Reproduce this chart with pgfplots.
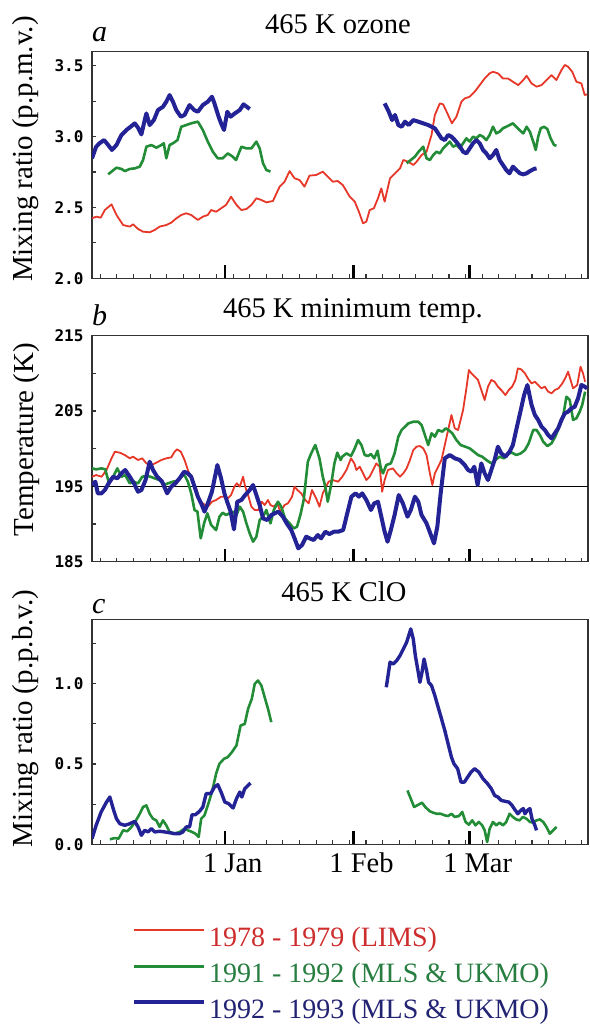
\documentclass[border=0pt]{standalone}
\usepackage{fontspec}
\setmainfont{Liberation Serif}
\newfontfamily\tickfont{DejaVu Sans Mono}
\usepackage{pgfplots}
\pgfplotsset{compat=1.18}
\definecolor{lred}{RGB}{230,55,40}
\definecolor{lgreen}{RGB}{35,140,55}
\definecolor{lblue}{RGB}{35,35,150}
\definecolor{tred}{RGB}{205,45,45}
\definecolor{tgreen}{RGB}{40,125,65}
\definecolor{tblue}{RGB}{35,35,115}
\newcommand{\bigfont}{\fontsize{28.5}{31}\selectfont}
\pgfplotsset{
  panel/.style={
    scale only axis, width=496pt,
    xmin=-32, xmax=87.5,
    axis line style={line width=1.5pt, draw=black!80},
    tick align=inside, tick pos=left,
    xtick={0,31,59}, minor xtick={-30,-26,...,86},
    major tick length=4pt, minor tick length=4pt,
    major x tick style={/pgfplots/major tick length=13pt, line width=2.5pt, black},
    minor x tick style={line width=1.1pt, black!80},
    y tick style={line width=1.2pt, black!80},
    xticklabels={,,},
    yticklabel style={font=\tickfont\bfseries\fontsize{16}{16}\selectfont, xshift=-5pt},
    every axis y label/.style={at={(axis description cs:-0.133,0.56)}, anchor=center, rotate=90, font=\fontsize{29}{31}\selectfont},
    title style={anchor=base, yshift=12pt, font=\bigfont},
  },
  rl/.style={color=lred, line width=1.8pt, line join=round},
  gl/.style={color=lgreen, line width=2.6pt, line join=round},
  bl/.style={color=lblue, line width=4pt, line join=round},
}
\begin{document}
\begin{tikzpicture}
%%%%%%%%%%%%%%%% panel a
\begin{axis}[panel, at={(92pt,745.7pt)}, anchor=south west, height=226.6pt,
  ymin=2.0, ymax=3.6, ytick={2,2.5,3,3.5}, yticklabels={2.0,2.5,3.0,3.5},
  minor ytick={2.25,2.75,3.25},
  ylabel={Mixing ratio (p.p.m.v.)},
  every axis y label/.append style={at={(axis description cs:-0.133,0.57)}},
  title={465 K ozone}, title style={at={(axis description cs:0.496,1)}},
  extra description/.code={\node[anchor=base west, yshift=10pt, font=\fontsize{30}{32}\selectfont\itshape, inner sep=0pt] at (axis description cs:0,1) {a};}]
\addplot[rl] coordinates {
(-32.0,2.423)(-31.0,2.435)(-29.9,2.428)(-28.9,2.482)(-27.3,2.522)(-26.1,2.447)(-24.5,2.376)(-22.9,2.365)(-22.1,2.381)(-20.9,2.348)(-19.7,2.329)(-18.1,2.325)(-16.9,2.341)(-15.7,2.365)(-14.1,2.376)(-12.9,2.393)(-11.7,2.423)(-10.5,2.447)(-9.3,2.459)(-8.1,2.447)(-6.5,2.412)(-5.3,2.435)(-4.1,2.447)(-3.3,2.482)(-2.1,2.470)(-0.9,2.494)(0.3,2.518)(1.5,2.576)(2.8,2.518)(4.0,2.482)(5.2,2.489)(6.4,2.518)(7.6,2.565)(8.8,2.553)(10.0,2.536)(11.6,2.546)(13.2,2.647)(14.4,2.682)(15.6,2.757)(16.8,2.706)(18.0,2.694)(19.2,2.647)(20.4,2.725)(22.0,2.729)(23.6,2.753)(24.8,2.717)(26.0,2.682)(27.2,2.687)(28.4,2.659)
(28.9,2.635)(30.1,2.576)(31.3,2.541)(32.3,2.470)(33.3,2.388)(34.1,2.400)(34.9,2.482)(35.9,2.494)(36.9,2.565)(37.7,2.635)(38.5,2.541)(39.8,2.706)(41.0,2.741)(42.2,2.776)(43.0,2.835)(44.2,2.823)(45.4,2.800)(46.2,2.823)(47.4,2.870)(48.6,2.894)(49.8,3.012)(50.6,3.153)(51.8,3.235)(52.6,3.228)(53.8,3.153)(54.7,3.094)(55.8,3.141)(57.0,3.247)(57.8,3.270)(59.0,3.282)(60.2,3.317)(61.4,3.364)(62.6,3.411)(63.8,3.447)(64.6,3.458)(65.8,3.447)(67.0,3.411)(68.2,3.411)(69.4,3.388)(70.7,3.364)(71.9,3.400)(72.7,3.430)(73.9,3.376)(75.1,3.353)(76.3,3.364)(77.5,3.400)(78.7,3.435)(79.9,3.400)(81.1,3.470)(81.9,3.506)(82.7,3.494)(83.7,3.458)(84.7,3.388)(85.9,3.376)(86.7,3.294)(87.3,3.299)};
\addplot[gl] coordinates {
(-28.1,2.734)(-27.3,2.753)(-26.1,2.781)(-24.9,2.772)(-24.1,2.757)(-22.9,2.772)(-21.7,2.776)(-20.5,2.788)(-19.7,2.835)(-18.9,2.929)(-17.7,2.941)(-16.5,2.922)(-15.3,2.941)(-14.7,2.953)(-14.1,2.847)(-13.3,2.941)(-12.5,2.953)(-11.4,2.976)(-10.5,3.070)(-9.3,3.082)(-8.1,3.094)(-6.5,3.106)(-5.3,3.047)(-4.1,2.965)(-2.9,2.894)(-1.7,2.847)(-0.5,2.847)(0.7,2.882)(1.9,2.859)(2.7,2.835)(4.0,2.929)(5.2,2.917)(6.4,2.917)(7.6,2.965)(8.4,2.917)(9.2,2.812)(10.0,2.765)(11.0,2.753)};
\addplot[gl] coordinates {
(43.8,2.812)(44.8,2.835)(45.8,2.859)(46.7,2.894)(47.8,2.929)(48.6,2.847)(49.4,2.835)(50.2,2.870)(51.0,2.894)(51.8,2.882)(52.6,2.917)(53.4,2.941)(54.2,2.965)(55.0,2.929)(55.8,2.941)(56.6,2.917)(57.4,2.953)(58.2,2.988)(59.0,2.965)(59.8,3.000)(60.6,2.988)(61.4,3.012)(62.2,3.000)(63.0,2.976)(63.8,3.012)(64.6,3.070)(65.4,3.023)(66.2,3.035)(67.0,3.059)(67.8,3.070)(68.6,3.082)(69.4,3.094)(70.2,3.070)(71.0,3.047)(71.9,3.023)(72.7,3.070)(73.5,3.035)(74.3,2.965)(74.9,2.906)(75.5,3.000)(76.1,3.059)(76.9,3.070)(77.7,3.054)(78.5,2.988)(79.3,2.941)(79.9,2.936)};
\addplot[bl] coordinates {
(-32.0,2.847)(-31.0,2.929)(-30.2,2.953)(-29.1,2.976)(-28.1,2.941)(-27.2,2.906)(-26.1,2.941)(-24.9,3.012)(-23.7,3.047)(-22.7,3.070)(-21.7,3.094)(-20.9,3.063)(-20.1,3.016)(-19.3,3.117)(-18.9,3.164)(-18.1,3.082)(-17.1,3.117)(-16.1,3.188)(-14.9,3.211)(-14.1,3.247)(-13.3,3.294)(-12.5,3.247)(-11.7,3.188)(-10.6,3.141)(-9.7,3.153)(-8.5,3.223)(-7.4,3.188)(-6.5,3.176)(-5.3,3.223)(-4.1,3.247)(-3.1,3.282)(-2.5,3.235)(-1.5,3.141)(-0.9,3.094)(-0.2,3.047)(0.6,3.176)(1.4,3.141)(2.4,3.164)(3.6,3.188)(4.5,3.228)(5.3,3.211)(6.0,3.195)};
\addplot[bl] coordinates {
(38.5,3.235)(39.5,3.176)(40.3,3.117)(41.0,3.153)(41.8,3.082)(42.6,3.070)(43.4,3.106)(44.3,3.082)(45.4,3.117)(46.6,3.106)(47.8,3.094)(49.0,3.082)(49.8,3.070)(50.6,3.059)(51.4,3.023)(52.2,2.988)(53.0,2.976)(53.8,3.012)(54.6,3.000)(55.4,2.976)(56.4,2.941)(57.4,2.894)(58.2,2.882)(59.0,2.917)(59.8,2.953)(60.6,2.976)(61.4,2.953)(62.2,2.906)(63.0,2.882)(63.8,2.847)(64.6,2.870)(65.4,2.906)(66.2,2.835)(67.0,2.800)(67.8,2.765)(68.6,2.741)(69.4,2.788)(70.2,2.765)(71.1,2.741)(71.9,2.734)(72.7,2.741)(73.5,2.757)(74.5,2.772)(75.1,2.776)};
\end{axis}
%%%%%%%%%%%%%%%% panel b
\begin{axis}[panel, at={(92pt,462.3pt)}, anchor=south west, height=226pt,
  ymin=185, ymax=215, ytick={185,195,205,215}, yticklabels={185,195,205,215},
  minor ytick={190,200,210},
  ylabel={Temperature (K)},
  every axis y label/.append style={at={(axis description cs:-0.133,0.54)}},
  title={465 K minimum temp.}, title style={at={(axis description cs:0.526,1)}},
  extra description/.code={\node[anchor=base west, yshift=10pt, font=\fontsize{30}{32}\selectfont\itshape, inner sep=0pt] at (axis description cs:0,1) {b};}]
\addplot[black, line width=1.3pt] coordinates {(-32,195) (87.5,195)};
\addplot[rl] coordinates {
(-32.0,196.28)(-31.0,196.50)(-29.7,196.28)(-28.5,197.17)(-27.3,198.72)(-26.5,199.60)(-25.3,199.47)(-24.1,199.16)(-22.9,198.72)(-22.1,198.94)(-20.9,198.50)(-19.9,198.72)(-18.9,198.05)(-17.7,197.83)(-16.5,198.14)(-15.3,198.50)(-14.1,198.72)(-12.9,198.85)(-12.1,199.60)(-11.5,199.91)(-10.6,199.60)(-9.7,198.50)(-8.9,197.17)(-8.1,196.06)(-6.9,194.73)(-6.1,193.19)(-5.3,192.74)(-4.1,192.30)(-3.1,192.96)(-2.1,193.19)(-0.9,193.63)(0.1,193.63)(0.7,193.41)(1.5,193.85)(2.3,194.96)(2.9,195.40)(3.6,194.96)(4.4,196.28)(4.9,194.96)(5.6,193.85)(6.4,192.30)(7.2,191.86)(8.1,191.86)(8.9,192.96)(9.6,192.52)(10.4,193.19)(11.0,192.52)(11.8,192.30)(12.6,192.74)(13.4,191.64)(14.4,192.52)(15.2,192.74)(16.2,193.63)(16.8,194.96)(17.5,194.51)(18.4,194.07)(19.4,193.19)(20.2,192.74)(21.0,194.51)(22.0,193.41)(22.8,192.30)(23.6,194.07)(24.4,194.96)(25.0,195.62)(26.0,195.84)(27.3,195.62)(28.3,196.28)(29.3,197.17)(30.4,198.72)(31.2,198.05)(31.7,197.17)(32.5,197.61)(33.3,196.73)(34.1,195.84)(34.9,196.28)(35.7,197.17)(36.5,198.05)(37.3,197.61)(37.9,194.29)(38.5,195.84)(39.3,197.17)(40.5,197.39)(41.4,196.73)(42.2,196.28)(43.0,196.73)(43.8,197.39)(44.6,198.50)(45.4,199.82)(46.2,200.27)(47.0,200.35)(47.8,200.04)(48.6,199.16)(49.4,196.73)(50.0,195.18)(50.6,196.73)(51.4,197.61)(52.2,198.50)(53.0,200.49)(53.8,202.48)(54.6,204.47)(55.4,202.70)(56.2,202.48)(57.4,205.13)(58.2,208.01)(58.8,210.44)(59.4,210.00)(60.2,209.56)(61.0,209.12)(61.8,207.79)(62.6,206.46)(63.4,208.23)(64.2,209.12)(65.0,208.89)(65.8,208.23)(66.6,207.79)(67.6,207.12)(68.4,207.79)(69.2,208.23)(70.0,209.12)(70.6,210.66)(71.4,210.53)(72.3,210.00)(73.0,209.34)(73.9,208.67)(74.7,208.89)(75.5,208.45)(76.3,208.01)(77.1,208.23)(77.9,207.57)(78.7,207.35)(79.5,207.79)(80.4,208.01)(81.3,208.67)(82.0,209.34)(82.7,210.22)(83.3,209.12)(83.9,208.01)(84.9,208.45)(85.7,210.88)(86.3,210.00)(86.8,208.89)};
\addplot[gl] coordinates {
(-32.0,197.39)(-31.0,197.26)(-29.7,197.39)(-28.8,197.26)(-28.0,195.62)(-26.9,196.28)(-25.9,197.39)(-24.9,196.28)(-24.0,196.50)(-22.9,195.40)(-22.1,195.62)(-20.9,195.40)(-19.9,196.28)(-18.9,196.37)(-17.9,196.28)(-16.9,196.06)(-15.7,195.84)(-14.7,195.18)(-13.7,195.40)(-12.5,195.62)(-11.4,195.75)(-10.6,196.28)(-9.7,196.50)(-8.9,195.62)(-8.1,194.07)(-7.3,191.86)(-6.6,191.64)(-5.8,188.10)(-5.0,190.09)(-4.2,191.42)(-3.3,189.87)(-2.1,189.20)(-1.3,190.97)(-0.5,191.50)(0.3,191.19)(1.1,191.42)(1.9,191.64)(2.8,191.19)(3.6,192.30)(4.4,191.64)(5.2,190.09)(6.0,188.76)(6.8,187.65)(7.6,188.32)(8.4,190.53)(9.2,190.97)(10.0,191.86)(11.0,190.09)(11.8,191.86)(12.8,192.96)(13.6,192.30)(14.5,190.75)(15.6,190.09)(16.6,189.42)(17.4,189.65)(18.2,191.19)(19.0,193.19)(20.0,198.27)(20.8,199.38)(21.8,200.49)(22.8,198.72)(23.6,196.28)(24.2,194.96)(24.8,192.96)(25.6,195.18)(26.4,198.05)(27.1,199.47)(27.9,198.50)(28.3,198.94)(29.3,199.38)(30.4,199.03)(31.3,200.04)(32.1,201.15)(32.9,200.49)(33.7,199.16)(34.5,199.03)(35.2,199.29)(36.0,198.72)(36.8,199.73)(37.6,197.39)(38.1,196.73)(38.9,197.83)(40.0,198.05)(40.9,199.38)(41.8,201.59)(42.6,202.48)(43.4,202.92)(44.2,203.36)(45.4,203.58)(46.6,203.58)(47.4,203.14)(48.2,201.81)(49.0,200.49)(49.8,202.04)(50.6,201.59)(51.4,202.48)(52.4,202.26)(53.2,202.70)(53.9,202.48)(54.8,202.04)(55.8,201.15)(56.8,200.49)(57.9,200.27)(59.0,200.04)(60.0,199.60)(61.0,199.16)(62.0,198.94)(63.0,198.50)(64.2,198.05)(65.2,198.50)(66.2,198.94)(67.3,198.72)(68.2,199.38)(69.2,199.47)(70.2,199.16)(71.3,199.38)(72.3,199.82)(73.2,200.71)(74.3,202.48)(75.1,202.48)(75.9,201.81)(76.7,200.93)(77.7,200.35)(78.7,200.71)(79.6,201.59)(80.4,202.70)(81.5,204.25)(82.3,206.90)(83.1,206.46)(83.9,203.81)(84.7,204.03)(85.5,204.91)(86.1,205.80)(86.8,207.57)};
\addplot[bl] coordinates {
(-32.0,195.18)(-31.2,195.62)(-30.6,194.07)(-29.7,194.07)(-28.9,194.51)(-28.0,195.40)(-26.9,196.28)(-25.9,196.06)(-24.9,196.73)(-24.0,197.17)(-22.9,196.28)(-21.9,195.40)(-20.9,194.29)(-20.1,194.51)(-19.1,195.84)(-18.1,198.27)(-17.3,197.17)(-16.3,196.28)(-15.1,195.62)(-13.9,194.07)(-12.9,194.96)(-11.9,195.40)(-10.9,196.06)(-9.8,196.95)(-8.9,196.73)(-8.1,196.28)(-7.3,194.96)(-6.5,193.63)(-5.7,192.74)(-4.9,191.64)(-4.1,192.74)(-3.1,194.29)(-1.8,197.83)(-0.9,196.06)(-0.1,194.07)(0.7,192.74)(1.4,191.64)(2.2,189.29)(3.0,192.96)(4.0,193.19)(4.9,193.85)(6.0,194.51)(6.8,195.18)(7.6,193.85)(8.4,192.52)(9.2,190.75)(10.2,190.53)(11.2,191.19)(12.0,191.42)(12.9,191.64)(14.0,190.97)(14.9,190.09)(16.0,189.20)(16.8,188.10)(17.7,186.77)(18.6,187.21)(19.6,188.32)(20.4,188.10)(21.4,187.88)(22.4,188.54)(23.2,188.10)(24.2,188.98)(25.2,188.67)(26.3,188.98)(27.3,188.98)(28.5,189.20)(29.3,190.97)(30.5,193.63)(31.5,194.07)(32.3,193.63)(33.1,194.07)(34.1,193.19)(35.2,191.86)(36.0,192.74)(36.9,192.96)(37.7,190.97)(38.5,188.98)(39.2,187.65)(40.0,189.20)(40.9,191.19)(41.9,193.85)(42.9,192.74)(44.0,190.97)(44.8,191.86)(45.8,193.63)(46.6,192.96)(47.4,191.19)(48.6,190.09)(49.8,188.32)(50.4,187.43)(51.2,189.65)(52.0,194.07)(53.0,198.72)(54.2,199.16)(55.4,198.72)(56.6,198.50)(57.8,197.83)(58.6,197.17)(59.4,196.95)(60.1,197.61)(60.9,195.18)(61.8,198.05)(62.6,196.73)(63.4,195.84)(64.2,197.17)(65.0,198.50)(65.8,200.27)(66.6,199.38)(67.6,198.94)(68.6,199.60)(69.4,200.49)(70.2,202.48)(71.3,205.13)(72.1,207.12)(72.9,208.45)(73.9,205.80)(74.7,204.47)(75.5,203.81)(76.3,202.92)(77.1,202.48)(77.9,201.81)(78.7,201.37)(79.5,202.04)(80.3,202.70)(81.1,203.81)(81.9,204.69)(82.7,204.91)(83.5,205.35)(84.3,205.58)(85.1,206.68)(85.9,208.45)(86.7,208.23)(87.3,208.01)};
\end{axis}
%%%%%%%%%%%%%%%% panel c
\begin{axis}[panel, at={(92pt,179.7pt)}, anchor=south west, height=225pt,
  ymin=0, ymax=1.4, ytick={0,0.5,1.0}, yticklabels={0.0,0.5,1.0},
  minor ytick={0.25,0.75,1.25},
  xticklabels={1 Jan,1 Feb,1 Mar},
  xticklabel style={font=\bigfont, anchor=base, yshift=-28pt, xshift=8pt},
  ylabel={Mixing ratio (p.p.b.v.)},
  every axis y label/.append style={at={(axis description cs:-0.133,0.56)}},
  title={465 K ClO}, title style={at={(axis description cs:0.508,1)}},
  extra description/.code={\node[anchor=base west, yshift=6pt, font=\fontsize{30}{32}\selectfont\itshape, inner sep=0pt] at (axis description cs:0,1) {c};},
  legend style={at={(axis description cs:0.0806,-0.366)}, anchor=north west, draw=none, fill=none,
    inner sep=0pt, font=\fontsize{28}{30}\selectfont, row sep=9pt, column sep=3pt,
    nodes={inner sep=0pt, text height=20pt, text depth=7pt}},
  legend cell align=left,
  legend image code/.code={\path (0pt,0pt) (70pt,0pt); \draw[#1] (0pt,10pt) -- (70pt,10pt);}]
\addlegendimage{rl}
\addlegendentry{\textcolor{tred}{1978 - 1979 (LIMS)}}
\addlegendimage{gl}
\addlegendentry{\textcolor{tgreen}{1991 - 1992 (MLS \& UKMO)}}
\addlegendimage{bl}
\addlegendentry{\textcolor{tblue}{1992 - 1993 (MLS \& UKMO)}}
\addplot[gl, forget plot] coordinates {
(-27.7,0.031)(-26.5,0.039)(-25.6,0.035)(-24.5,0.087)(-23.5,0.081)(-22.5,0.108)(-21.6,0.139)(-20.5,0.190)(-19.7,0.232)(-18.9,0.242)(-18.1,0.190)(-17.3,0.159)(-16.5,0.149)(-15.7,0.108)(-14.9,0.149)(-14.1,0.118)(-13.3,0.077)(-12.1,0.066)(-10.9,0.077)(-9.7,0.097)(-8.9,0.087)(-7.9,0.077)(-7.1,0.066)(-6.3,0.046)(-5.7,0.159)(-4.9,0.180)(-4.1,0.242)(-3.1,0.325)(-2.1,0.439)(-1.3,0.501)(-0.2,0.532)(0.7,0.542)(1.7,0.573)(2.8,0.615)(3.8,0.739)(4.8,0.749)(5.6,0.843)(6.5,0.905)(7.2,0.998)(8.0,1.019)(8.8,0.988)(9.6,0.915)(10.4,0.843)(11.2,0.760)};
\addplot[gl, forget plot] coordinates {
(44.0,0.335)(44.8,0.284)(45.6,0.232)(46.6,0.246)(47.5,0.259)(48.3,0.232)(49.4,0.205)(50.2,0.197)(51.0,0.190)(52.0,0.190)(53.0,0.180)(53.8,0.176)(54.6,0.190)(55.4,0.170)(56.4,0.176)(57.2,0.201)(58.0,0.139)(58.8,0.122)(59.6,0.149)(60.4,0.118)(61.2,0.139)(62.0,0.118)(62.6,0.087)(63.2,0.014)(63.8,0.097)(64.6,0.139)(65.4,0.118)(66.2,0.135)(67.0,0.118)(67.8,0.139)(68.6,0.190)(69.4,0.170)(70.2,0.155)(71.0,0.149)(71.8,0.170)(72.7,0.159)(73.5,0.139)(74.3,0.135)(75.1,0.149)(75.9,0.155)(76.7,0.139)(77.5,0.108)(78.3,0.066)(79.1,0.087)(79.9,0.108)};
\addplot[bl, line width=3.4pt, forget plot] coordinates {
(-32.0,0.035)(-31.0,0.118)(-29.8,0.201)(-28.5,0.263)(-27.7,0.294)(-26.9,0.222)(-26.1,0.159)(-25.3,0.128)(-24.1,0.118)(-22.9,0.128)(-21.7,0.143)(-20.9,0.108)(-20.1,0.056)(-19.3,0.087)(-18.5,0.077)(-17.7,0.097)(-16.9,0.077)(-15.7,0.081)(-14.5,0.077)(-13.3,0.072)(-12.1,0.066)(-10.9,0.066)(-10.1,0.077)(-9.3,0.108)(-8.5,0.108)(-7.9,0.184)(-7.1,0.184)(-6.1,0.205)(-5.3,0.232)(-4.5,0.315)(-3.4,0.315)(-2.5,0.356)(-1.7,0.371)(-0.9,0.325)(0.0,0.263)(0.9,0.253)(2.0,0.226)(2.8,0.284)(3.6,0.325)(4.1,0.294)(4.8,0.346)(5.6,0.366)(6.2,0.381)};
\addplot[bl, line width=3.4pt, forget plot] coordinates {
(38.9,0.977)(39.8,1.133)(40.6,1.122)(41.4,1.143)(42.2,1.174)(43.0,1.215)(43.8,1.257)(44.3,1.298)(44.8,1.340)(45.4,1.277)(45.9,1.174)(46.6,1.070)(47.0,1.008)(47.5,1.070)(48.0,1.153)(48.6,1.081)(49.1,1.008)(49.8,0.988)(50.6,0.925)(51.4,0.853)(52.2,0.781)(53.0,0.708)(53.8,0.625)(54.6,0.542)(55.2,0.501)(56.1,0.470)(56.9,0.387)(57.7,0.387)(58.5,0.418)(59.3,0.449)(60.2,0.470)(61.2,0.449)(62.2,0.408)(63.3,0.377)(64.2,0.346)(65.0,0.304)(65.8,0.294)(66.6,0.273)(67.6,0.267)(68.4,0.263)(69.2,0.242)(70.0,0.211)(70.6,0.190)(71.3,0.211)(71.9,0.222)(72.3,0.190)(72.9,0.211)(73.5,0.222)(74.0,0.159)(74.7,0.118)(75.1,0.087)};
\end{axis}
\pgfresetboundingbox
\path[use as bounding box] (0pt,0pt) rectangle (589pt,1024pt);
\end{tikzpicture}
\end{document}
